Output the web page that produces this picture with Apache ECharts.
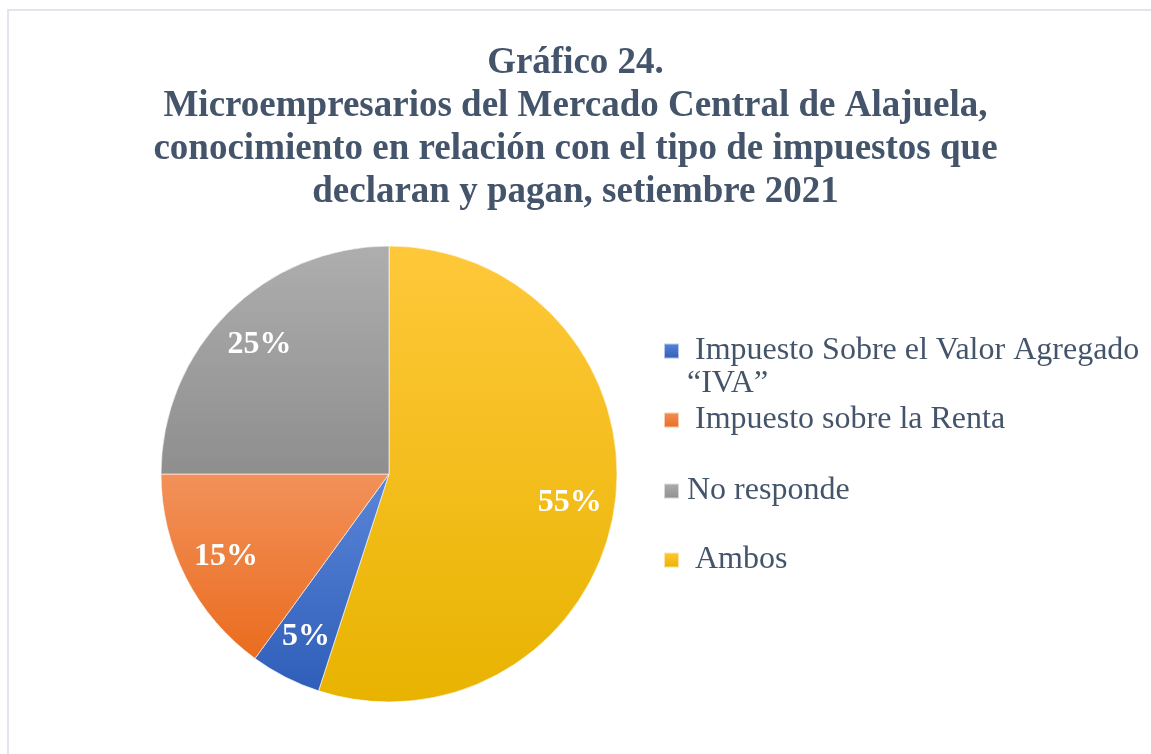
<!DOCTYPE html>
<html>
<head>
<meta charset="utf-8">
<script src="https://cdn.jsdelivr.net/npm/echarts@6/dist/echarts.min.js"></script>
<style>
  html, body { margin: 0; padding: 0; background: #fff; }
  #chart { width: 1151px; height: 754px; }
</style>
</head>
<body>
<div id="chart"></div>
<script>
// ----------data----------
const titleLines = [
  'Gráfico 24.',
  'Microempresarios del Mercado Central de Alajuela,',
  'conocimiento en relación con el tipo de impuestos que',
  'declaran y pagan, setiembre 2021'
];
// slice order (clockwise from 12 o'clock)
const categories = ['Ambos', 'Impuesto Sobre el Valor Agregado “IVA”', 'Impuesto sobre la Renta', 'No responde'];
const values = [55, 5, 15, 25];
// top / bottom colours of each slice gradient
const colorsTop = ['#FFC83A', '#5A86D8', '#F2915A', '#AEAEAE'];
const colorsBottom = ['#E8B300', '#2F5EB9', '#EA6C1E', '#8E8E8E'];
// legend order as in the picture
const legendOrder = ['Impuesto Sobre el Valor Agregado “IVA”', 'Impuesto sobre la Renta', 'No responde', 'Ambos'];
const legendText = {
  // leading blank line keeps the first text line level with the icon
  'Impuesto Sobre el Valor Agregado “IVA”': ' \n Impuesto Sobre el Valor Agregado\n“IVA”',
  'Impuesto sobre la Renta': ' Impuesto sobre la Renta',
  'No responde': 'No responde',
  'Ambos': ' Ambos'
};
// -------------------------

const FONT = '"Liberation Serif", "Times New Roman", serif';
const TEXT_COLOR = '#44546A';
const LINE = 33;

const chart = echarts.init(document.getElementById('chart'), null, { renderer: 'canvas' });

const grad = (i) => new echarts.graphic.LinearGradient(0, 0, 0, 1, [
  { offset: 0, color: colorsTop[i] },
  { offset: 1, color: colorsBottom[i] }
]);

const pieData = categories.map((name, i) => ({
  name,
  value: values[i],
  itemStyle: { color: grad(i) }
}));

// icon centres of each legend row
const legendCenters = [351, 420, 491, 560];
const legends = legendOrder.map((name, i) => {
  const lines = legendText[name].split('\n').length;
  return {
    orient: 'vertical',
    left: 663,
    top: legendCenters[i] - (LINE * lines) / 2,
    padding: 0,
    itemWidth: 15,
    itemHeight: 15,
    icon: 'rect',
    selectedMode: false,
    data: [name],
    formatter: (n) => legendText[n],
    textStyle: {
      fontFamily: FONT,
      fontSize: 32,
      lineHeight: LINE,
      color: TEXT_COLOR,
      padding: [0, 0, 0, 3]
    }
  };
});

const option = {
  backgroundColor: '#fff',
  animation: false,
  title: {
    text: titleLines.join('\n'),
    left: 'center',
    top: 42,
    padding: 0,
    textStyle: {
      fontFamily: FONT,
      fontWeight: 'bold',
      fontSize: 37,
      lineHeight: 43,
      color: TEXT_COLOR
    }
  },
  legend: legends,
  graphic: [
    {
      type: 'rect',
      shape: { x: 8, y: 10, width: 1300, height: 900 },
      style: { fill: 'none', stroke: '#E3E5EE', lineWidth: 2 },
      silent: true
    }
  ],
  series: [
    {
      type: 'pie',
      center: [389, 474],
      radius: [0, 228],
      startAngle: 90,
      clockwise: true,
      data: pieData,
      label: { show: false },
      labelLine: { show: false },
      itemStyle: { borderColor: 'rgba(255,255,255,0.6)', borderWidth: 1 },
      emphasis: { disabled: true }
    },
    {
      // label layer only: puts percentages further out than the default 'inside'
      type: 'pie',
      center: [389, 474],
      radius: [132, 228],
      startAngle: 90,
      clockwise: true,
      silent: true,
      data: categories.map((name, i) => ({ name, value: values[i] })),
      itemStyle: { color: 'rgba(0,0,0,0)' },
      label: {
        show: true,
        position: 'inside',
        formatter: (p) => p.value + '%',
        fontFamily: FONT,
        fontWeight: 'bold',
        fontSize: 32,
        color: '#fff'
      },
      labelLine: { show: false },
      emphasis: { disabled: true }
    }
  ]
};

chart.setOption(option);
</script>
</body>
</html>
